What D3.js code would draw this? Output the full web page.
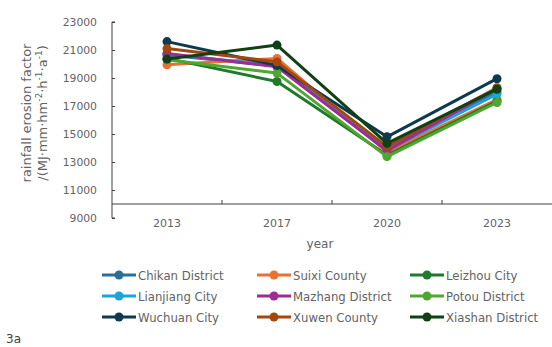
<!DOCTYPE html>
<html><head><meta charset="utf-8">
<script src="https://cdn.jsdelivr.net/npm/d3@7"></script>
<style>body{margin:0;background:#fff}svg{display:block}text{font-family:"DejaVu Sans",sans-serif;fill:#636363}</style>
</head><body><svg id="c" width="552" height="347"></svg>
<script>
const years = ["2013","2017","2020","2023"];
const yTicks = [9000,11000,13000,15000,17000,19000,21000,23000];
const names = ["Chikan District","Suixi County","Leizhou City","Lianjiang City","Mazhang District","Potou District","Wuchuan City","Xuwen County","Xiashan District"];
const colors = ["#2a6f97","#e97132","#1f7a2c","#1aa3dc","#a02b93","#4ea72e","#0d3a4e","#a4470f","#0f4016"];
const chikan   = [20650,19850,14000,18000];
const suixi    = [19950,20400,13700,17450];
const leizhou  = [20400,18750,13500,17350];
const lianjiang= [20700,19900,13850,17850];
const mazhang  = [20750,19800,13800,18250];
const potou    = [20300,19350,13380,17250];
const wuchuan  = [21600,19900,14800,18950];
const xuwen    = [21100,20150,14100,18300];
const xiashan  = [20350,21350,14330,18200];
const series = [chikan,suixi,leizhou,lianjiang,mazhang,potou,wuchuan,xuwen,xiashan];

const svg = d3.select("#c");
const x = d3.scaleBand().domain(years).range([112,552]);
const y = d3.scaleLinear().domain([9000,23000]).range([218,22]);

// y axis
const ya = svg.append("g").attr("transform","translate(112,0)")
  .call(d3.axisLeft(y).tickValues(yTicks).tickSize(-3).tickPadding(15).tickFormat(d3.format("d")));
ya.select(".domain").attr("stroke","#404040").attr("d","M3,22H0V218H3");
ya.selectAll(".tick line").attr("stroke","#404040");
ya.selectAll("text").attr("font-size",10.8).style("fill","#636363");

// x axis at 10000
const y0 = y(10000);
const xa = svg.append("g").attr("transform",`translate(0,${y0})`)
  .call(d3.axisBottom(x).tickSize(0).tickPadding(15));
xa.select(".domain").attr("stroke","#404040").attr("d","M112,0H552");
xa.selectAll("text").attr("font-size",11).style("fill","#636363");
// category boundary ticks
svg.append("g").selectAll("line").data(years.slice(1)).join("line")
  .attr("x1",d=>x(d)).attr("x2",d=>x(d)).attr("y1",y0-4).attr("y2",y0)
  .attr("stroke","#404040");

svg.append("text").attr("x",320).attr("y",248).attr("text-anchor","middle").attr("font-size",12).text("year");

// y title
const yt = svg.append("text").attr("transform","translate(0,113) rotate(-90)").attr("text-anchor","middle").attr("font-size",13);
yt.append("tspan").attr("x",0).attr("y",31).text("rainfall erosion factor");
const t2 = yt.append("tspan").attr("x",0).attr("y",47);
t2.append("tspan").text("/(MJ·mm·hm");
t2.append("tspan").attr("dy",-5).attr("font-size",9).text("-2");
t2.append("tspan").attr("dy",5).text("·h");
t2.append("tspan").attr("dy",-5).attr("font-size",9).text("-1");
t2.append("tspan").attr("dy",5).text("·a");
t2.append("tspan").attr("dy",-5).attr("font-size",9).text("-1");
t2.append("tspan").attr("dy",5).text(")");

const cx = d=>x(d)+x.bandwidth()/2;
const line = d3.line().x((v,i)=>cx(years[i])).y(v=>y(v));
series.forEach((s,k)=>{
  const g = svg.append("g");
  g.append("path").attr("d",line(s)).attr("fill","none").attr("stroke",colors[k]).attr("stroke-width",3).attr("stroke-linejoin","round");
  g.selectAll("circle").data(s).join("circle").attr("cx",(v,i)=>cx(years[i])).attr("cy",v=>y(v)).attr("r",4.5).attr("fill",colors[k]);
});

// legend
const colX = [102,257,410], rowY = [275,296,317];
names.forEach((n,k)=>{
  const lx = colX[k%3], ly = rowY[Math.floor(k/3)];
  const g = svg.append("g");
  g.append("line").attr("x1",lx).attr("x2",lx+34).attr("y1",ly).attr("y2",ly).attr("stroke",colors[k]).attr("stroke-width",3);
  g.append("circle").attr("cx",lx+17).attr("cy",ly).attr("r",4.5).attr("fill",colors[k]);
  g.append("text").attr("x",lx+36).attr("y",ly+4.5).attr("font-size",11.7).text(n);
});

svg.append("text").attr("x",6).attr("y",343).attr("font-size",12).style("fill","#404040").text("3a");
</script></body></html>
